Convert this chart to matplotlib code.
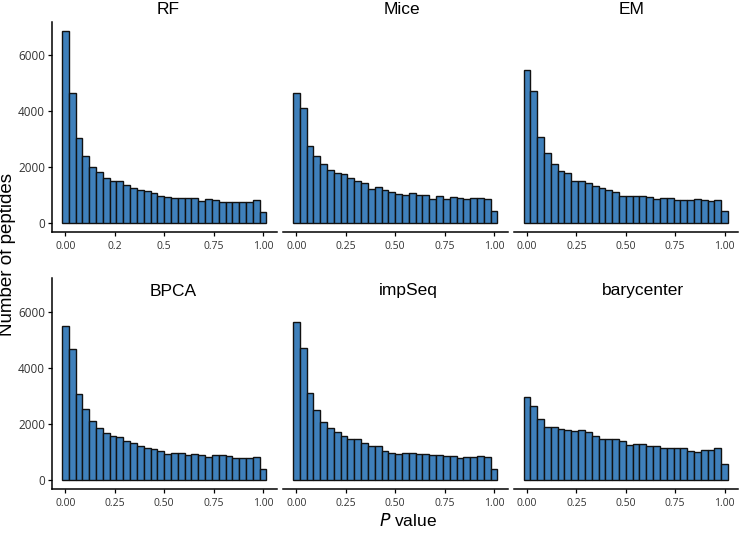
import numpy as np
import matplotlib
matplotlib.use("Agg")
import matplotlib.pyplot as plt

# 30 bins of P value, centred on k/29
n_bins = 30
bin_centers = np.arange(n_bins) / (n_bins - 1)
bin_width = 1 / (n_bins - 1)

methods = ['RF', 'Mice', 'EM', 'BPCA', 'impSeq', 'barycenter']

rf = [6860, 4655, 3040, 2410, 1995, 1817, 1615, 1485, 1485, 1342,
      1247, 1188, 1152, 1069, 950, 926, 902, 898, 910, 898,
      790, 842, 818, 765, 765, 740, 762, 765, 807, 380]
mice = [4655, 4110, 2767, 2411, 2114, 1900, 1770, 1746, 1591, 1508,
        1425, 1223, 1271, 1188, 1093, 1045, 986, 1057, 1010, 1010,
        867, 950, 867, 914, 879, 867, 903, 903, 867, 416]
em = [5463, 4703, 3088, 2518, 2102, 1865, 1781, 1508, 1485, 1425,
      1318, 1235, 1164, 1105, 962, 950, 950, 962, 926, 855,
      890, 890, 819, 819, 819, 855, 831, 784, 808, 428]
bpca = [5473, 4669, 3073, 2530, 2104, 1856, 1678, 1572, 1513, 1395,
        1324, 1194, 1147, 1090, 1017, 922, 969, 946, 898, 922,
        875, 804, 875, 875, 851, 780, 780, 780, 804, 378]
impseq = [5615, 4704, 3097, 2482, 2069, 1868, 1726, 1560, 1442, 1442,
          1324, 1194, 1206, 1040, 969, 922, 957, 957, 922, 910,
          887, 887, 863, 851, 780, 827, 827, 863, 827, 390]
barycenter = [2955, 2648, 2175, 1891, 1891, 1832, 1797, 1738, 1785, 1702,
              1560, 1454, 1454, 1454, 1383, 1241, 1265, 1265, 1206, 1217,
              1147, 1147, 1123, 1123, 1028, 1005, 1076, 1064, 1135, 567]
counts = [rf, mice, em, bpca, impseq, barycenter]

x_ticks = [0, 0.25, 0.5, 0.75, 1.0]
x_labels = ['0.00', '0.25', '0.50', '0.75', '1.00']
rf_x_labels = ['0.00', '0.2', '0.5', '0.75', '1.00']
y_ticks = [0, 2000, 4000, 6000]

bar_color = '#3F80BB'
W, H = 740, 536

fig = plt.figure(figsize=(7.4, 5.36), dpi=100)

lefts = [51.9, 282.9, 513.5]
tops = [21.5, 278.3]
ax_w, ax_h = 224.6, 211

# title positions (pixels) -- they sit a bit off-centre in the original
title_pos = [(168, 9), (402, 9), (632, 9), (173, 291), (408, 291), (643, 291)]

for i, name in enumerate(methods):
    row, col = divmod(i, 3)
    ax = fig.add_axes([lefts[col] / W, 1 - (tops[row] + ax_h) / H, ax_w / W, ax_h / H])
    ax.bar(bin_centers, counts[i], width=bin_width, color=bar_color,
           edgecolor='#111111', linewidth=1.0)
    ax.set_xlim(-0.068, 1.068)
    ax.set_ylim(-335, 7190)
    for s in ['top', 'right']:
        ax.spines[s].set_visible(False)
    ax.spines['bottom'].set_linewidth(1.1)
    ax.spines['left'].set_linewidth(1.1)
    ax.set_xticks(x_ticks)
    ax.set_xticklabels(rf_x_labels if i == 0 else x_labels, family='Open Sans')
    ax.tick_params(axis='x', length=3, width=0.9, pad=3, labelsize=7.5,
                   labelcolor='#333333')
    if col == 0:
        ax.set_yticks(y_ticks)
        ax.set_yticklabels([str(v) for v in y_ticks], family='Open Sans')
        ax.tick_params(axis='y', length=3, width=0.9, pad=2, labelsize=8.5,
                       labelcolor='#333333')
    else:
        ax.spines['left'].set_visible(False)
        ax.set_yticks([])
    tx, ty = title_pos[i]
    fig.text(tx / W, 1 - ty / H, name, ha='center', va='center',
             fontsize=12.5, family='Liberation Sans')

fig.text(8 / W, 1 - 255 / H, 'Number of peptides', rotation=90,
         ha='center', va='center', fontsize=13.5, family='Liberation Sans')
fig.text(408 / W, 1 - 521 / H, r'$\it{P}$ value', ha='center', va='center',
         fontsize=12.5, family='Liberation Sans')

fig.savefig('out.png', dpi=100)
